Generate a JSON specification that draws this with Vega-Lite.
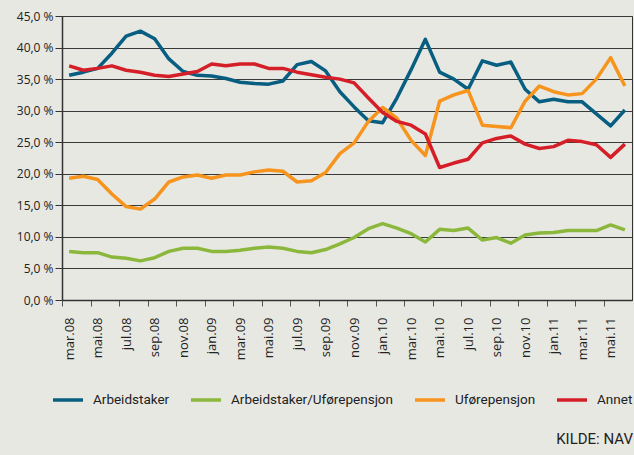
{
"$schema": "https://vega.github.io/schema/vega-lite/v6.json",
"width": 570, "height": 284,
"autosize": {"type": "none"},
"padding": {"left": 62, "top": 16, "right": 2, "bottom": 155},
"background": "#e8e8e3",
"config": {"view": {"stroke": "#333333", "strokeWidth": 1}, "font": "Open Sans"},
"title": {"text": "KILDE: NAV", "orient": "bottom", "anchor": "end", "fontSize": 15, "font": "Roboto", "fontWeight": "normal", "color": "#222222", "offset": 25},
"datasets": {
"rows": [
{"m":"mar.08","s":"Arbeidstaker","v":35.6},{"m":"apr.08","s":"Arbeidstaker","v":36.1},{"m":"mai.08","s":"Arbeidstaker","v":36.7},{"m":"jun.08","s":"Arbeidstaker","v":39.1},{"m":"jul.08","s":"Arbeidstaker","v":41.8},{"m":"aug.08","s":"Arbeidstaker","v":42.6},{"m":"sep.08","s":"Arbeidstaker","v":41.4},{"m":"okt.08","s":"Arbeidstaker","v":38.2},{"m":"nov.08","s":"Arbeidstaker","v":36.2},{"m":"des.08","s":"Arbeidstaker","v":35.6},
{"m":"jan.09","s":"Arbeidstaker","v":35.5},{"m":"feb.09","s":"Arbeidstaker","v":35.1},{"m":"mar.09","s":"Arbeidstaker","v":34.5},{"m":"apr.09","s":"Arbeidstaker","v":34.3},{"m":"mai.09","s":"Arbeidstaker","v":34.2},{"m":"jun.09","s":"Arbeidstaker","v":34.7},{"m":"jul.09","s":"Arbeidstaker","v":37.3},{"m":"aug.09","s":"Arbeidstaker","v":37.8},{"m":"sep.09","s":"Arbeidstaker","v":36.3},{"m":"okt.09","s":"Arbeidstaker","v":33.0},
{"m":"nov.09","s":"Arbeidstaker","v":30.6},{"m":"des.09","s":"Arbeidstaker","v":28.4},{"m":"jan.10","s":"Arbeidstaker","v":28.1},{"m":"feb.10","s":"Arbeidstaker","v":32.0},{"m":"mar.10","s":"Arbeidstaker","v":36.5},{"m":"apr.10","s":"Arbeidstaker","v":41.3},{"m":"mai.10","s":"Arbeidstaker","v":36.1},{"m":"jun.10","s":"Arbeidstaker","v":35.0},{"m":"jul.10","s":"Arbeidstaker","v":33.4},{"m":"aug.10","s":"Arbeidstaker","v":37.9},
{"m":"sep.10","s":"Arbeidstaker","v":37.2},{"m":"okt.10","s":"Arbeidstaker","v":37.7},{"m":"nov.10","s":"Arbeidstaker","v":33.4},{"m":"des.10","s":"Arbeidstaker","v":31.4},{"m":"jan.11","s":"Arbeidstaker","v":31.8},{"m":"feb.11","s":"Arbeidstaker","v":31.4},{"m":"mar.11","s":"Arbeidstaker","v":31.4},{"m":"apr.11","s":"Arbeidstaker","v":29.5},{"m":"mai.11","s":"Arbeidstaker","v":27.6},{"m":"jun.11","s":"Arbeidstaker","v":30.1},
{"m":"mar.08","s":"Arbeidstaker/Uførepensjon","v":7.7},{"m":"apr.08","s":"Arbeidstaker/Uførepensjon","v":7.5},{"m":"mai.08","s":"Arbeidstaker/Uførepensjon","v":7.5},{"m":"jun.08","s":"Arbeidstaker/Uførepensjon","v":6.8},{"m":"jul.08","s":"Arbeidstaker/Uførepensjon","v":6.6},{"m":"aug.08","s":"Arbeidstaker/Uførepensjon","v":6.2},{"m":"sep.08","s":"Arbeidstaker/Uførepensjon","v":6.7},{"m":"okt.08","s":"Arbeidstaker/Uførepensjon","v":7.7},{"m":"nov.08","s":"Arbeidstaker/Uførepensjon","v":8.2},{"m":"des.08","s":"Arbeidstaker/Uførepensjon","v":8.2},
{"m":"jan.09","s":"Arbeidstaker/Uførepensjon","v":7.7},{"m":"feb.09","s":"Arbeidstaker/Uførepensjon","v":7.7},{"m":"mar.09","s":"Arbeidstaker/Uførepensjon","v":7.9},{"m":"apr.09","s":"Arbeidstaker/Uførepensjon","v":8.2},{"m":"mai.09","s":"Arbeidstaker/Uførepensjon","v":8.4},{"m":"jun.09","s":"Arbeidstaker/Uførepensjon","v":8.2},{"m":"jul.09","s":"Arbeidstaker/Uførepensjon","v":7.7},{"m":"aug.09","s":"Arbeidstaker/Uførepensjon","v":7.5},{"m":"sep.09","s":"Arbeidstaker/Uførepensjon","v":8.0},{"m":"okt.09","s":"Arbeidstaker/Uførepensjon","v":8.9},
{"m":"nov.09","s":"Arbeidstaker/Uførepensjon","v":9.9},{"m":"des.09","s":"Arbeidstaker/Uførepensjon","v":11.3},{"m":"jan.10","s":"Arbeidstaker/Uførepensjon","v":12.1},{"m":"feb.10","s":"Arbeidstaker/Uførepensjon","v":11.4},{"m":"mar.10","s":"Arbeidstaker/Uførepensjon","v":10.5},{"m":"apr.10","s":"Arbeidstaker/Uførepensjon","v":9.2},{"m":"mai.10","s":"Arbeidstaker/Uførepensjon","v":11.2},{"m":"jun.10","s":"Arbeidstaker/Uførepensjon","v":11.0},{"m":"jul.10","s":"Arbeidstaker/Uførepensjon","v":11.4},{"m":"aug.10","s":"Arbeidstaker/Uførepensjon","v":9.5},
{"m":"sep.10","s":"Arbeidstaker/Uførepensjon","v":9.9},{"m":"okt.10","s":"Arbeidstaker/Uførepensjon","v":9.0},{"m":"nov.10","s":"Arbeidstaker/Uførepensjon","v":10.3},{"m":"des.10","s":"Arbeidstaker/Uførepensjon","v":10.6},{"m":"jan.11","s":"Arbeidstaker/Uførepensjon","v":10.7},{"m":"feb.11","s":"Arbeidstaker/Uførepensjon","v":11.0},{"m":"mar.11","s":"Arbeidstaker/Uførepensjon","v":11.0},{"m":"apr.11","s":"Arbeidstaker/Uførepensjon","v":11.0},{"m":"mai.11","s":"Arbeidstaker/Uførepensjon","v":11.9},{"m":"jun.11","s":"Arbeidstaker/Uførepensjon","v":11.1},
{"m":"mar.08","s":"Uførepensjon","v":19.3},{"m":"apr.08","s":"Uførepensjon","v":19.6},{"m":"mai.08","s":"Uførepensjon","v":19.1},{"m":"jun.08","s":"Uførepensjon","v":16.8},{"m":"jul.08","s":"Uførepensjon","v":14.8},{"m":"aug.08","s":"Uførepensjon","v":14.4},{"m":"sep.08","s":"Uførepensjon","v":16.0},{"m":"okt.08","s":"Uførepensjon","v":18.7},{"m":"nov.08","s":"Uførepensjon","v":19.5},{"m":"des.08","s":"Uførepensjon","v":19.8},
{"m":"jan.09","s":"Uførepensjon","v":19.3},{"m":"feb.09","s":"Uførepensjon","v":19.8},{"m":"mar.09","s":"Uførepensjon","v":19.8},{"m":"apr.09","s":"Uførepensjon","v":20.3},{"m":"mai.09","s":"Uførepensjon","v":20.6},{"m":"jun.09","s":"Uførepensjon","v":20.4},{"m":"jul.09","s":"Uførepensjon","v":18.7},{"m":"aug.09","s":"Uførepensjon","v":18.9},{"m":"sep.09","s":"Uførepensjon","v":20.2},{"m":"okt.09","s":"Uførepensjon","v":23.2},
{"m":"nov.09","s":"Uførepensjon","v":24.9},{"m":"des.09","s":"Uførepensjon","v":28.3},{"m":"jan.10","s":"Uførepensjon","v":30.5},{"m":"feb.10","s":"Uførepensjon","v":28.8},{"m":"mar.10","s":"Uførepensjon","v":25.3},{"m":"apr.10","s":"Uførepensjon","v":22.9},{"m":"mai.10","s":"Uførepensjon","v":31.5},{"m":"jun.10","s":"Uførepensjon","v":32.5},{"m":"jul.10","s":"Uførepensjon","v":33.2},{"m":"aug.10","s":"Uførepensjon","v":27.7},
{"m":"sep.10","s":"Uførepensjon","v":27.5},{"m":"okt.10","s":"Uførepensjon","v":27.3},{"m":"nov.10","s":"Uførepensjon","v":31.5},{"m":"des.10","s":"Uførepensjon","v":33.9},{"m":"jan.11","s":"Uførepensjon","v":33.0},{"m":"feb.11","s":"Uførepensjon","v":32.5},{"m":"mar.11","s":"Uførepensjon","v":32.7},{"m":"apr.11","s":"Uførepensjon","v":35.0},{"m":"mai.11","s":"Uførepensjon","v":38.4},{"m":"jun.11","s":"Uførepensjon","v":33.9},
{"m":"mar.08","s":"Annet","v":37.1},{"m":"apr.08","s":"Annet","v":36.4},{"m":"mai.08","s":"Annet","v":36.7},{"m":"jun.08","s":"Annet","v":37.1},{"m":"jul.08","s":"Annet","v":36.4},{"m":"aug.08","s":"Annet","v":36.1},{"m":"sep.08","s":"Annet","v":35.6},{"m":"okt.08","s":"Annet","v":35.4},{"m":"nov.08","s":"Annet","v":35.8},{"m":"des.08","s":"Annet","v":36.2},
{"m":"jan.09","s":"Annet","v":37.4},{"m":"feb.09","s":"Annet","v":37.1},{"m":"mar.09","s":"Annet","v":37.4},{"m":"apr.09","s":"Annet","v":37.4},{"m":"mai.09","s":"Annet","v":36.7},{"m":"jun.09","s":"Annet","v":36.7},{"m":"jul.09","s":"Annet","v":36.1},{"m":"aug.09","s":"Annet","v":35.7},{"m":"sep.09","s":"Annet","v":35.3},{"m":"okt.09","s":"Annet","v":35.0},
{"m":"nov.09","s":"Annet","v":34.4},{"m":"des.09","s":"Annet","v":32.0},{"m":"jan.10","s":"Annet","v":29.7},{"m":"feb.10","s":"Annet","v":28.3},{"m":"mar.10","s":"Annet","v":27.7},{"m":"apr.10","s":"Annet","v":26.3},{"m":"mai.10","s":"Annet","v":21.0},{"m":"jun.10","s":"Annet","v":21.7},{"m":"jul.10","s":"Annet","v":22.3},{"m":"aug.10","s":"Annet","v":24.9},
{"m":"sep.10","s":"Annet","v":25.6},{"m":"okt.10","s":"Annet","v":26.0},{"m":"nov.10","s":"Annet","v":24.7},{"m":"des.10","s":"Annet","v":24.0},{"m":"jan.11","s":"Annet","v":24.3},{"m":"feb.11","s":"Annet","v":25.3},{"m":"mar.11","s":"Annet","v":25.1},{"m":"apr.11","s":"Annet","v":24.6},{"m":"mai.11","s":"Annet","v":22.6},{"m":"jun.11","s":"Annet","v":24.7}
]},
"data": {"name": "rows"},
"mark": {"type": "line", "strokeWidth": 3.5, "strokeJoin": "round"},
"encoding": {
  "x": {"field": "m", "type": "ordinal", "sort": null, "title": null,
    "scale": {"type": "point", "padding": 0.5},
    "axis": {"values": ["mar.08","mai.08","jul.08","sep.08","nov.08","jan.09","mar.09","mai.09","jul.09","sep.09","nov.09","jan.10","mar.10","mai.10","jul.10","sep.10","nov.10","jan.11","mar.11","mai.11"],
      "labelAngle": -90, "labelAlign": "right", "labelBaseline": "middle", "tickOffset": -7.125, "labelOffset": 7.125,
      "tickSize": 6, "labelPadding": 11, "domainColor": "#333333", "tickColor": "#555555", "domainWidth": 1.5,
      "labelFontSize": 13, "labelColor": "#222222", "grid": false}},
  "y": {"field": "v", "type": "quantitative", "title": null,
    "scale": {"domain": [0, 45], "nice": false, "zero": true},
    "axis": {"values": [0,5,10,15,20,25,30,35,40,45],
      "labelExpr": "replace(format(datum.value, '.1f'), '.', ',') + ' %'",
      "tickSize": 7, "labelPadding": 2, "tickColor": "#333333", "domainColor": "#333333", "domainWidth": 1.5,
      "gridColor": "#3a3a3a", "gridWidth": 1, "gridOpacity": 1, "labelFontSize": 12, "labelColor": "#222222"}},
  "color": {"field": "s", "type": "nominal",
    "scale": {"domain": ["Arbeidstaker","Arbeidstaker/Uførepensjon","Uførepensjon","Annet"], "range": ["#075e80","#8bb83c","#f7941e","#d51f28"]},
    "legend": {"orient": "none", "legendX": -11, "legendY": 367, "direction": "horizontal", "columns": 4, "title": null,
      "symbolType": "stroke", "symbolSize": 900, "symbolStrokeWidth": 3.5, "labelOffset": 8, "columnPadding": 14,
      "labelFontSize": 13.5, "labelFont": "Roboto", "labelColor": "#222222", "labelLimit": 400}}
}
}
